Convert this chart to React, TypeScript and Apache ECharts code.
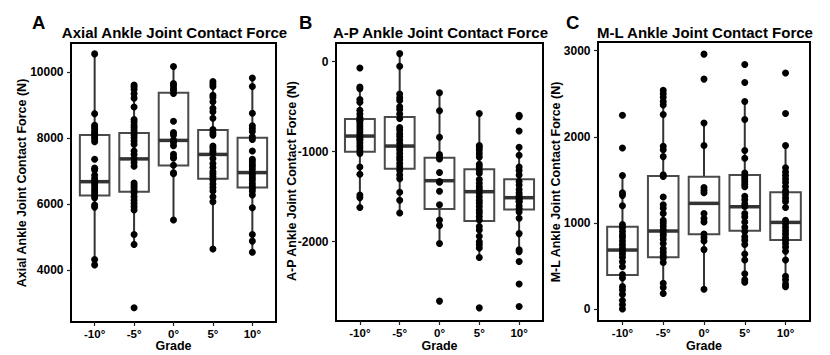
import React, { useEffect, useRef } from 'react';
import * as echarts from 'echarts';

const grades = ['-10°', '-5°', '0°', '5°', '10°'];

// Panel A: Axial ankle joint contact force (N)
const axialPoints: number[][] = [
  [10560, 8750, 8400, 8350, 8290, 8220, 8160, 8100, 8040, 7980, 7900, 7370, 7100, 7040, 6880, 6780, 6700, 6650, 6580, 6500, 6420, 6350, 6270, 6200, 5980, 5920, 4330, 4170],
  [9620, 9560, 9480, 9350, 9220, 8950, 8570, 8500, 8400, 8330, 8250, 8170, 8100, 8020, 7920, 7820, 7620, 7510, 7390, 7270, 7160, 6650, 6580, 6510, 6430, 6350, 6230, 6130, 6030, 5930, 5830, 5090, 4790, 2870],
  [10180, 9660, 9600, 9520, 9450, 9360, 8520, 8180, 8100, 7950, 7880, 7780, 7520, 7440, 7400, 7190, 6960, 6930, 5530],
  [9720, 9640, 9570, 9310, 9240, 9110, 8910, 8810, 8610, 8270, 8170, 8100, 7770, 7700, 7620, 7550, 7390, 7240, 7120, 6990, 6920, 6840, 6740, 6620, 6510, 6410, 6230, 6080, 4650],
  [9830, 9570, 8760, 8380, 8300, 8210, 8050, 7970, 7620, 7370, 7290, 7210, 7140, 7060, 6960, 6890, 6810, 6740, 6640, 6560, 6490, 6410, 6290, 5900, 5090, 4890, 4550],
];
const axialLow = [4170, 4790, 5530, 4650, 4550];
const axialQ1 = [6273, 6384, 7182, 6778, 6515];
const axialMedian = [6690, 7380, 7940, 7515, 6965];
const axialQ3 = [8100, 8162, 9384, 8253, 8020];
const axialHigh = [10560, 9620, 10180, 9720, 9830];
const axialTicks = [4000, 6000, 8000, 10000];

// Panel B: A-P ankle joint contact force (N)
const apPoints: number[][] = [
  [-70, -280, -300, -420, -450, -540, -580, -620, -650, -660, -690, -720, -750, -780, -810, -840, -860, -870, -900, -930, -960, -990, -1020, -1170, -1250, -1480, -1510, -1620],
  [90, -50, -360, -400, -430, -500, -530, -580, -630, -730, -760, -800, -830, -870, -910, -950, -980, -1020, -1060, -1090, -1130, -1170, -1210, -1260, -1300, -1450, -1540, -1680],
  [-345, -545, -840, -1030, -1060, -1080, -1230, -1330, -1340, -1440, -1590, -1760, -1820, -2020, -2660],
  [-575, -930, -950, -980, -1020, -1060, -1140, -1170, -1210, -1240, -1310, -1350, -1390, -1420, -1460, -1500, -1540, -1570, -1610, -1650, -1680, -1720, -1760, -1830, -1870, -1940, -2000, -2030, -2070, -2175, -2735],
  [-595, -610, -770, -950, -1040, -1170, -1210, -1260, -1330, -1370, -1420, -1460, -1490, -1510, -1530, -1550, -1560, -1600, -1630, -1670, -1740, -1910, -2090, -2110, -2220, -2470, -2720],
];
const apLow = [-1620, -1680, -2020, -2175, -2090];
const apQ1 = [-1000, -1189, -1637, -1770, -1641];
const apMedian = [-826, -937, -1322, -1444, -1511];
const apQ3 = [-637, -615, -1067, -1196, -1307];
const apHigh = [-280, 90, -345, -575, -950];
const apTicks = [-2000, -1000, 0];

// Panel C: M-L ankle joint contact force (N)
const mlPoints: number[][] = [
  [2250, 1870, 1550, 1350, 1320, 1200, 980, 940, 900, 860, 830, 790, 750, 710, 670, 640, 600, 550, 490, 400, 360, 260, 220, 170, 100, 50, 0],
  [2540, 2500, 2460, 2410, 2370, 2260, 1890, 1850, 1770, 1560, 1540, 1300, 1210, 1170, 1110, 1030, 1000, 960, 920, 880, 850, 810, 760, 700, 660, 620, 590, 540, 300, 250, 180],
  [2960, 2670, 2160, 1900, 1410, 1380, 1350, 1110, 1050, 1010, 870, 830, 790, 690, 230],
  [2840, 2630, 2410, 2200, 1840, 1750, 1580, 1540, 1510, 1480, 1450, 1420, 1310, 1270, 1220, 1190, 1110, 1070, 1010, 950, 900, 840, 800, 750, 640, 570, 410, 340, 310],
  [2740, 2270, 1900, 1640, 1590, 1550, 1510, 1470, 1420, 1370, 1330, 1290, 1250, 1180, 1030, 990, 950, 910, 870, 830, 800, 760, 720, 670, 570, 380, 340, 290, 260],
];
const mlLow = [0, 180, 230, 306, 260];
const mlQ1 = [395, 600, 867, 910, 801];
const mlMedian = [685, 906, 1227, 1188, 1006];
const mlQ3 = [956, 1545, 1537, 1556, 1355];
const mlHigh = [1556, 2543, 2156, 2408, 1905];
const mlTicks = [0, 1000, 2000, 3000];

const xAxisTitle = 'Grade';

const FONT = '"Liberation Sans", Arial, sans-serif';

const panels = [
  {
    letter: 'A', title: 'Axial Ankle Joint Contact Force', yName: 'Axial Ankle Joint Contact Force (N)',
    points: axialPoints, low: axialLow, q1: axialQ1, med: axialMedian, q3: axialQ3, high: axialHigh,
    ticks: axialTicks, min: 2440, max: 10890,
    grid: { left: 71, top: 43, width: 205, height: 279 }, nameX: 22, nameY: 183, letterX: 32,
  },
  {
    letter: 'B', title: 'A-P Ankle Joint Contact Force', yName: 'A-P Ankle Joint Contact Force (N)',
    points: apPoints, low: apLow, q1: apQ1, med: apMedian, q3: apQ3, high: apHigh,
    ticks: apTicks, min: -2881, max: 208,
    grid: { left: 336, top: 43, width: 207, height: 278 }, nameX: 292, nameY: 181, letterX: 299,
  },
  {
    letter: 'C', title: 'M-L Ankle Joint Contact Force', yName: 'M-L Ankle Joint Contact Force (N)',
    points: mlPoints, low: mlLow, q1: mlQ1, med: mlMedian, q3: mlQ3, high: mlHigh,
    ticks: mlTicks, min: -139, max: 3101,
    grid: { left: 598, top: 42, width: 212, height: 279 }, nameX: 555.5, nameY: 182, letterX: 566,
  },
];

export default function App() {
  const ref = useRef<HTMLDivElement>(null);

  useEffect(() => {
    document.body.style.margin = '0';
    if (!ref.current) return;
    const chart = echarts.init(ref.current, undefined, { renderer: 'svg' });

    const labelStyle = { color: '#000', fontWeight: 'bold' as const, fontSize: 12, fontFamily: FONT };
    const nameSize = 12.5;

    const grids = panels.map((p) => ({
      ...p.grid,
      show: true,
      borderColor: '#000',
      borderWidth: 2,
      backgroundColor: '#fff',
      containLabel: false,
      outerBoundsMode: 'none',
    }));

    const xAxes = panels.map((p, i) => ({
      type: 'value' as const,
      gridIndex: i,
      position: 'bottom' as const,
      min: -0.6,
      max: 4.6,
      axisLine: { show: false, onZero: false },
      splitLine: { show: false },
      axisTick: { show: true, customValues: [0, 1, 2, 3, 4], length: 4, lineStyle: { color: '#222', width: 1.2 } },
      axisLabel: {
        ...labelStyle,
        fontSize: 11.5,
        customValues: [0, 1, 2, 3, 4],
        margin: 5.5,
        formatter: (v: number) => grades[Math.round(v)] ?? '',
      },
    }));

    const yAxes = panels.map((p, i) => ({
      type: 'value' as const,
      gridIndex: i,
      position: 'left' as const,
      min: p.min,
      max: p.max,
      axisLine: { show: false, onZero: false },
      splitLine: { show: false },
      axisTick: { show: true, customValues: p.ticks, length: 4, lineStyle: { color: '#222', width: 1.2 } },
      axisLabel: { ...labelStyle, customValues: p.ticks, margin: 7.5, formatter: (v: number) => String(v) },
    }));

    const series: any[] = [];
    panels.forEach((p, i) => {
      series.push({
        type: 'custom',
        xAxisIndex: i,
        yAxisIndex: i,
        z: 2,
        encode: { x: 0, y: [1, 2, 3, 4, 5] },
        data: grades.map((_, g) => [g, p.low[g], p.q1[g], p.med[g], p.q3[g], p.high[g]]),
        renderItem: (_params: any, api: any) => {
          const x = api.value(0);
          const lo = api.coord([x, api.value(1)]);
          const q1 = api.coord([x, api.value(2)]);
          const md = api.coord([x, api.value(3)]);
          const q3 = api.coord([x, api.value(4)]);
          const hi = api.coord([x, api.value(5)]);
          const hw = api.size([0.75, 0])[0] / 2;
          const cx = lo[0];
          return {
            type: 'group',
            children: [
              { type: 'line', shape: { x1: cx, y1: hi[1], x2: cx, y2: q3[1] }, style: { stroke: '#333', lineWidth: 2 } },
              { type: 'line', shape: { x1: cx, y1: q1[1], x2: cx, y2: lo[1] }, style: { stroke: '#333', lineWidth: 2 } },
              { type: 'rect', shape: { x: cx - hw, y: q3[1], width: hw * 2, height: q1[1] - q3[1] }, style: { fill: '#fff', stroke: '#4a4a4a', lineWidth: 2 } },
              { type: 'line', shape: { x1: cx - hw, y1: md[1], x2: cx + hw, y2: md[1] }, style: { stroke: '#333', lineWidth: 3.5 } },
            ],
          };
        },
      });
      const pts: number[][] = [];
      p.points.forEach((arr, g) => arr.forEach((v) => pts.push([g, v])));
      series.push({
        type: 'scatter',
        xAxisIndex: i,
        yAxisIndex: i,
        z: 3,
        symbol: 'circle',
        symbolSize: 7,
        itemStyle: { color: '#000', opacity: 1 },
        data: pts,
      });
    });

    const graphics: any[] = [];
    panels.forEach((p) => {
      const cx = p.grid.left + p.grid.width / 2;
      graphics.push({
        type: 'text',
        x: cx + 1,
        y: 32,
        style: { text: p.title, fill: '#000', font: `bold 15px ${FONT}`, textAlign: 'center', textVerticalAlign: 'middle' },
      });
      graphics.push({
        type: 'text',
        x: p.letterX,
        y: 22,
        style: { text: p.letter, fill: '#000', font: `bold 18.5px ${FONT}`, textAlign: 'left', textVerticalAlign: 'middle' },
      });
      graphics.push({
        type: 'text',
        x: p.nameX,
        y: p.nameY,
        rotation: Math.PI / 2,
        style: { text: p.yName, fill: '#000', font: `bold ${nameSize}px ${FONT}`, textAlign: 'center', textVerticalAlign: 'middle' },
      });
      graphics.push({
        type: 'text',
        x: cx,
        y: 346,
        style: { text: xAxisTitle, fill: '#000', font: `bold ${nameSize}px ${FONT}`, textAlign: 'center', textVerticalAlign: 'middle' },
      });
    });

    chart.setOption({
      animation: false,
      backgroundColor: '#fff',
      grid: grids,
      xAxis: xAxes,
      yAxis: yAxes,
      series,
      graphic: graphics,
    });

    return () => chart.dispose();
  }, []);

  return <div ref={ref} style={{ width: 830, height: 355 }} />;
}
